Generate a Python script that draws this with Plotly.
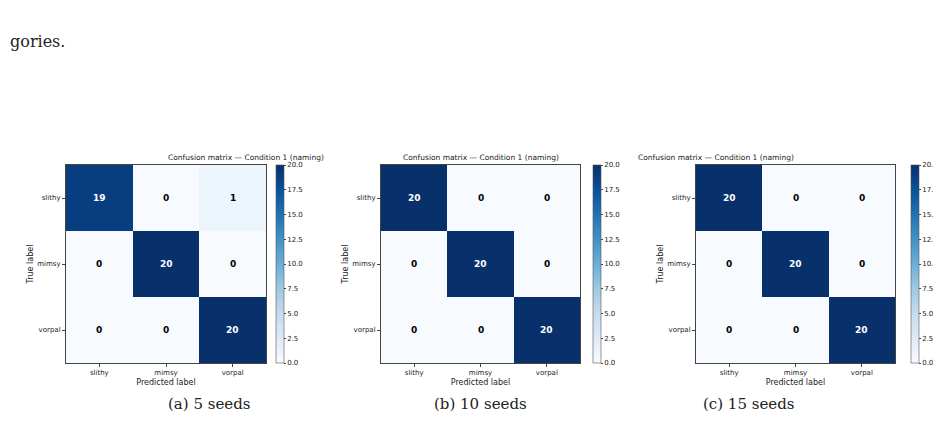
import plotly.graph_objects as go

labels = ["slithy", "mimsy", "vorpal"]
# rows = true label, cols = predicted label
cm_5 = [[19, 0, 1], [0, 20, 0], [0, 0, 20]]
cm_10 = [[20, 0, 0], [0, 20, 0], [0, 0, 20]]
cm_15 = [[20, 0, 0], [0, 20, 0], [0, 0, 20]]
captions = ["(a) 5 seeds", "(b) 10 seeds", "(c) 15 seeds"]
cb_ticks = [0, 2.5, 5, 7.5, 10, 12.5, 15, 17.5, 20]

W, H = 941, 429
panels = [(58, 258, 268), (373, 572, 585), (688, 887, 903)]
y_top, y_bot = 157, 355

fig = go.Figure()
font = "DejaVu Sans"
for i, (cm, (x0, x1, cbx)) in enumerate(zip([cm_5, cm_10, cm_15], panels)):
    n = "" if i == 0 else str(i + 1)
    fig.add_trace(go.Heatmap(
        z=cm, x=labels, y=labels, xaxis="x" + n, yaxis="y" + n,
        colorscale="Blues", zmin=0, zmax=20, xgap=0, ygap=0,
        colorbar=dict(x=cbx / W, xanchor="left", y=1 - y_bot / H, yanchor="bottom",
                      len=(y_bot - y_top) / H, lenmode="fraction", thickness=8,
                      tickvals=cb_ticks, tickformat=".1f", ticks="outside", ticklen=2,
                      outlinewidth=0.6, outlinecolor="#555", xpad=0, ypad=0,
                      tickfont=dict(size=7, family=font, color="#222")),
    ))
    ax = dict(domain=[x0 / W, x1 / W], anchor="y" + n, tickfont=dict(size=7, family=font, color="#222"),
              title=dict(text="Predicted label", font=dict(size=8, family=font, color="#222"), standoff=2),
              ticks="outside", ticklen=3, mirror=True, showline=True, linecolor="#444", linewidth=1,
              showgrid=False)
    ay = dict(domain=[1 - y_bot / H, 1 - y_top / H], anchor="x" + n, autorange="reversed",
              tickfont=dict(size=7, family=font, color="#222"),
              title=dict(text="True label", font=dict(size=8, family=font, color="#222"), standoff=2),
              ticks="outside", ticklen=3, mirror=True, showline=True, linecolor="#444", linewidth=1,
              showgrid=False)
    fig.update_layout({"xaxis" + n: ax, "yaxis" + n: ay})
    for r, row in enumerate(cm):
        for c, v in enumerate(row):
            fig.add_annotation(x=labels[c], y=labels[r], xref="x" + n, yref="y" + n, text=f"<b>{v}</b>",
                               showarrow=False, font=dict(size=9, family=font,
                                                          color="white" if v > 10 else "black"))
    fig.add_annotation(x=(x0 + x1) / 2 / W, y=1 - 150 / H, xref="paper", yref="paper",
                       text="Confusion matrix — Condition 1 (naming)", showarrow=False,
                       font=dict(size=7.5, family=font, color="#222"))
    fig.add_annotation(x=(x0 + x1) / 2 / W, y=1 - 407 / H, xref="paper", yref="paper",
                       text=captions[i], showarrow=False,
                       font=dict(size=15, family="DejaVu Serif", color="#222"))

fig.add_annotation(x=0, y=1 - 22 / H, xref="paper", yref="paper", xanchor="left", text="gories.",
                   showarrow=False, font=dict(size=16, family="DejaVu Serif", color="#222"))
fig.update_layout(width=W, height=H, margin=dict(l=0, r=0, t=0, b=0, autoexpand=False),
                  paper_bgcolor="white", plot_bgcolor="white", showlegend=False)
fig.write_html("out.html")
